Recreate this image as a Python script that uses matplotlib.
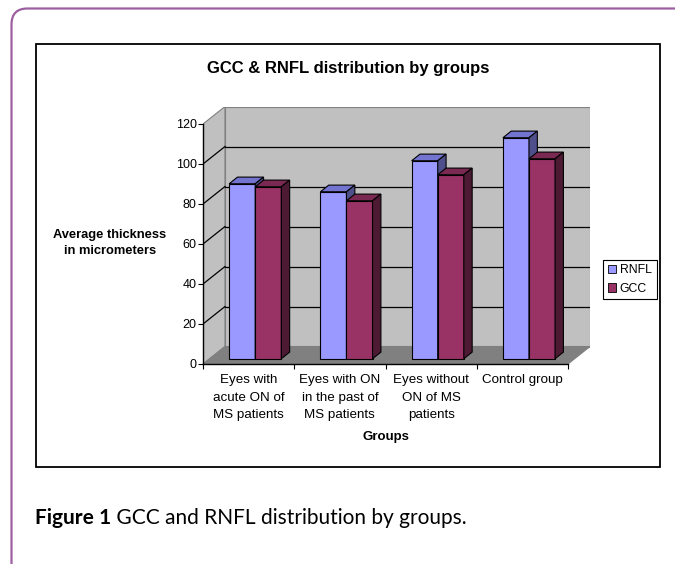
import matplotlib
matplotlib.use("Agg")
import matplotlib.pyplot as plt
from matplotlib.patches import Polygon, Patch, FancyBboxPatch, Rectangle
from matplotlib.transforms import Affine2D

plt.rcParams["font.family"] = ["Liberation Sans", "DejaVu Sans"]

# ---- data -------------------------------------------------------------
groups = ["Eyes with\nacute ON of\nMS patients",
          "Eyes with ON\nin the past of\nMS patients",
          "Eyes without\nON of MS\npatients",
          "Control group"]
rnfl = [87.5, 83.5, 99, 110.5]
gcc = [86, 79, 92, 100]
series_names = ["RNFL", "GCC"]
yticks = [0, 20, 40, 60, 80, 100, 120]

# face colours: front, top, side
RNFL_COLORS = ("#9999FF", "#7373D0", "#4F4F8C")
GCC_COLORS = ("#993366", "#7A2952", "#4D1A33")

W, H = 675, 564
fig = plt.figure(figsize=(W / 100, H / 100), dpi=100)
# pixel coordinates measured from the top-left corner
pix = Affine2D().scale(1 / W, -1 / H).translate(0, 1) + fig.transFigure

# outer rounded purple frame and the chart's black border
fig.add_artist(FancyBboxPatch((11.5, 8.5), 700, 600,
                              boxstyle="round,pad=0,rounding_size=16",
                              ec="#9E5FA0", fc="none", lw=1.6,
                              transform=pix))
fig.add_artist(Rectangle((36, 44), 624, 423, ec="black", fc="white",
                         lw=1.3, transform=pix, zorder=0))

# ---- oblique 3-D plot area -------------------------------------------
CAT = 91.25          # px per category
UNIT = 2.0           # px per value unit
DX = 22 / CAT        # wall depth in category units
DY = 17.5 / UNIT     # wall depth in value units
F0, F1 = 0.30, 0.68  # bar front / back depth fraction
n = len(groups)
ymax = yticks[-1]

ax = fig.add_axes([203 / W, 1 - 364 / H,
                   (n + DX) * CAT / W, (ymax + DY) * UNIT / H])
ax.set_xlim(0, n + DX)
ax.set_ylim(0, ymax + DY)
ax.patch.set_visible(False)

wall = "#C0C0C0"
edge = "#808080"
ax.add_patch(Polygon([(0, 0), (DX, DY), (DX, ymax + DY), (0, ymax)],
                     closed=True, fc=wall, ec=edge, lw=0.8, zorder=1))
ax.add_patch(Polygon([(DX, DY), (n + DX, DY), (n + DX, ymax + DY),
                      (DX, ymax + DY)],
                     closed=True, fc=wall, ec=edge, lw=0.8, zorder=1))
ax.add_patch(Polygon([(0, 0), (n, 0), (n + DX, DY), (DX, DY)],
                     closed=True, fc="#808080", ec=edge, lw=0.8, zorder=1))

for v in yticks[1:-1]:
    ax.plot([DX, n + DX], [v + DY, v + DY], color="black", lw=0.9, zorder=1.5)
    ax.plot([0, DX], [v, v + DY], color="black", lw=0.9, zorder=1.5)


def bar3d(x, h, w, colors):
    fx0, fy0 = F0 * DX, F0 * DY
    fx1, fy1 = F1 * DX, F1 * DY
    front = [(x + fx0, fy0), (x + w + fx0, fy0),
             (x + w + fx0, h + fy0), (x + fx0, h + fy0)]
    top = [(x + fx0, h + fy0), (x + w + fx0, h + fy0),
           (x + w + fx1, h + fy1), (x + fx1, h + fy1)]
    side = [(x + w + fx0, fy0), (x + w + fx1, fy1),
            (x + w + fx1, h + fy1), (x + w + fx0, h + fy0)]
    for pts, c in zip((front, top, side), colors):
        ax.add_patch(Polygon(pts, closed=True, fc=c, ec="black",
                             lw=0.8, zorder=2))


bw = 1 / 3.5  # Excel gap width 150%
for i in range(n):
    bar3d(i + 0.75 * bw, rnfl[i], bw, RNFL_COLORS)
    bar3d(i + 1.75 * bw, gcc[i], bw, GCC_COLORS)

for sp in ("top", "right"):
    ax.spines[sp].set_visible(False)
ax.spines["left"].set_bounds(0, ymax)
ax.spines["bottom"].set_bounds(0, n)
for sp in ("left", "bottom"):
    ax.spines[sp].set_linewidth(1.0)
    ax.spines[sp].set_zorder(3)

ax.set_yticks(yticks)
ax.set_yticklabels([str(v) for v in yticks], fontsize=9)
ax.tick_params(axis="y", direction="out", length=3.6, width=0.8, pad=1)
ax.set_xticks(range(n + 1))
ax.set_xticklabels([])
ax.set_xticks([i + 0.5 for i in range(n)], minor=True)
ax.set_xticklabels(groups, minor=True, fontsize=9.6, linespacing=1.6)
ax.tick_params(axis="x", which="major", direction="out", length=3.6,
               width=0.8)
ax.tick_params(axis="x", which="minor", length=0, pad=7.5)

# ---- texts -------------------------------------------------------------
fig.text(348, 68, "GCC & RNFL distribution by groups", transform=pix,
         ha="center", va="center", fontsize=12, fontweight="bold")
fig.text(110, 243, "Average thickness\nin micrometers", transform=pix,
         ha="center", va="center", fontsize=9.3, fontweight="bold",
         linespacing=1.45)
fig.text(386, 437, "Groups", transform=pix, ha="center", va="center",
         fontsize=9.5, fontweight="bold")

handles = [Patch(fc=RNFL_COLORS[0], ec="black", lw=0.6, label=series_names[0]),
           Patch(fc=GCC_COLORS[0], ec="black", lw=0.6, label=series_names[1])]
leg = fig.legend(handles=handles, loc="center",
                 bbox_to_anchor=(629.7 / W, 1 - 279.5 / H),
                 fontsize=8.8, frameon=True, fancybox=False,
                 edgecolor="black", framealpha=1,
                 handlelength=0.7, handleheight=0.7, handletextpad=0.3,
                 borderpad=0.4, labelspacing=0.5, borderaxespad=0)
leg.get_frame().set_linewidth(0.8)

cap = fig.text(35, 518, "Figure 1", transform=pix, ha="left",
               va="center", fontsize=15, fontweight="bold",
               family=["Lato", "DejaVu Sans"])
plt.annotate(" GCC and RNFL distribution by groups.", xy=(1, 0),
             xycoords=cap, ha="left", va="bottom", fontsize=15,
             family=["Lato", "DejaVu Sans"], annotation_clip=False)

fig.savefig("out.png", dpi=100, facecolor="white")
